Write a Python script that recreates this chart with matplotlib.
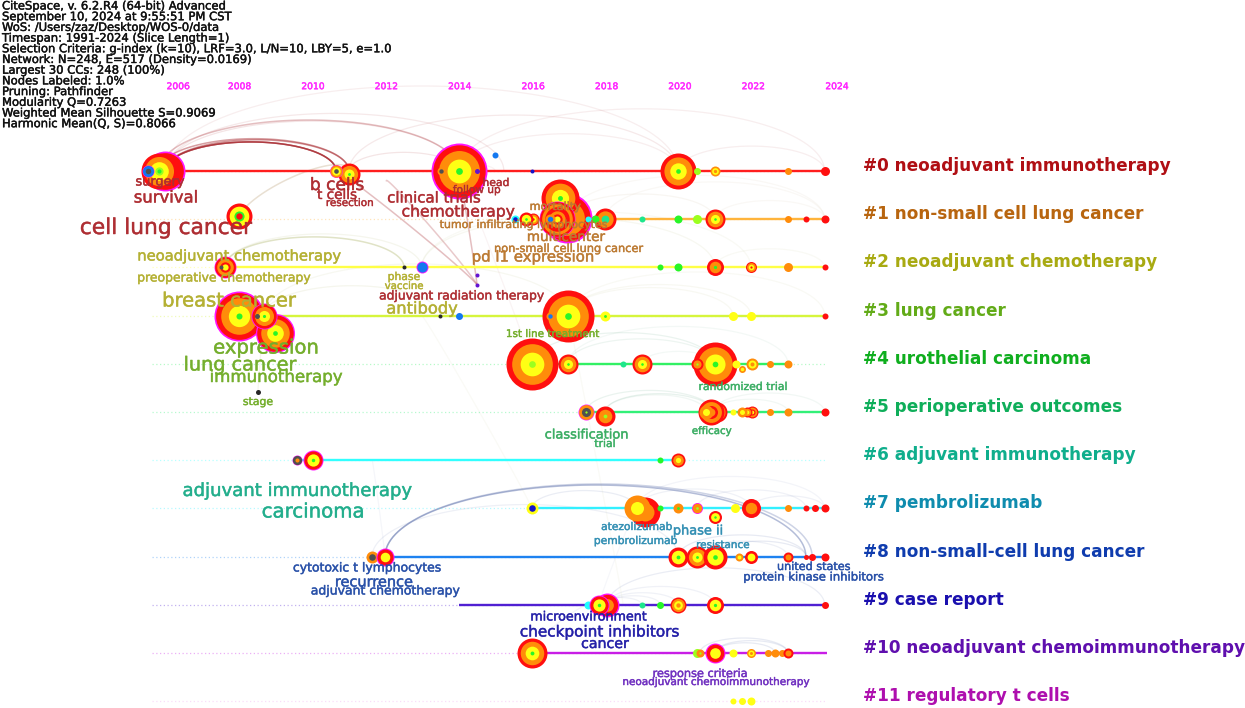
import numpy as np
import matplotlib
matplotlib.use('Agg')
import matplotlib.pyplot as plt
import matplotlib.patheffects as pe
from matplotlib.font_manager import FontProperties
from matplotlib.textpath import TextPath

header_lines = [
    "CiteSpace, v. 6.2.R4 (64-bit) Advanced",
    "September 10, 2024 at 9:55:51 PM CST",
    "WoS: /Users/zaz/Desktop/WOS-0/data",
    "Timespan: 1991-2024 (Slice Length=1)",
    "Selection Criteria: g-index (k=10), LRF=3.0, L/N=10, LBY=5, e=1.0",
    "Network: N=248, E=517 (Density=0.0169)",
    "Largest 30 CCs: 248 (100%)",
    "Nodes Labeled: 1.0%",
    "Pruning: Pathfinder",
    "Modularity Q=0.7263",
    "Weighted Mean Silhouette S=0.9069",
    "Harmonic Mean(Q, S)=0.8066",
]

tick_years = [2006.33, 2008.0, 2010.0, 2012.0, 2014.0, 2016.0, 2018.0, 2020.0, 2022.0, 2024.28]
tick_labels = ['2006', '2008', '2010', '2012', '2014', '2016', '2018', '2020', '2022', '2024']

cluster_names = ['#0 neoadjuvant immunotherapy', '#1 non-small cell lung cancer',
                 '#2 neoadjuvant chemotherapy', '#3 lung cancer', '#4 urothelial carcinoma',
                 '#5 perioperative outcomes', '#6 adjuvant immunotherapy', '#7 pembrolizumab',
                 '#8 non-small-cell lung cancer', '#9 case report',
                 '#10 neoadjuvant chemoimmunotherapy', '#11 regulatory t cells']
cluster_colors = ['#b00f14', '#b8650f', '#a8aa12', '#62ab18', '#0fae1e', '#0fae5a',
                  '#0fae8c', '#0f8cae', '#0f3cae', '#1a0fae', '#5f0fae', '#ae0fae']
lane_colors = ['#ff1e1e', '#ffb43c', '#ffff46', '#d6f53c', '#32f064', '#32f078',
               '#32ffff', '#32f0ff', '#1e82f0', '#5020d2', '#c81ee6', '#f0a0f0']
lane_start = [2005.97, 2015.50, 2007.59, 2007.98, 2015.96, 2017.44,
              2009.56, 2015.96, 2011.61, 2013.97, 2015.96, np.nan]
lane_end = [2023.94, 2023.94, 2023.94, 2023.94, 2022.94, 2023.94,
            2019.95, 2023.94, 2023.94, 2023.94, 2024.0, np.nan]

# citation tree rings, outside to inside
node_year = [
    2005.97, 2005.80, 2005.50, 2010.98, 2010.63, 2013.97, 2013.48, 2014.47, 2014.96, 2015.96,
    2019.95, 2020.45, 2020.95, 2022.94, 2023.94,
    2007.98, 2016.91, 2016.73, 2016.65, 2016.46, 2015.99, 2015.80, 2015.50, 2017.96, 2017.68,
    2017.49, 2018.96, 2019.95, 2020.46, 2020.95, 2022.94, 2023.43, 2023.94,
    2007.59, 2007.48, 2012.48, 2012.96, 2014.47, 2014.47, 2019.46, 2019.95, 2020.95, 2021.93,
    2022.94, 2023.94,
    2007.98, 2008.96, 2008.67, 2008.47, 2013.46, 2013.97, 2016.95, 2016.46, 2017.96, 2021.44,
    2021.93, 2023.94, 2008.50,
    2015.96, 2016.95, 2018.45, 2018.96, 2020.95, 2020.46, 2021.53, 2021.69, 2021.96, 2022.45,
    2022.94,
    2017.44, 2017.96, 2021.00, 2020.85, 2020.71, 2021.44, 2021.96, 2021.83, 2021.69, 2022.45,
    2022.94, 2023.94,
    2009.56, 2010.00, 2019.46, 2019.95,
    2015.96, 2019.05, 2018.82, 2019.46, 2019.95, 2020.45, 2020.95, 2021.93, 2021.50, 2022.94,
    2023.43, 2023.68, 2023.94,
    2011.61, 2011.96, 2019.95, 2020.45, 2020.95, 2021.60, 2021.93, 2022.94, 2023.43, 2023.60,
    2023.94,
    2017.49, 2018.01, 2017.79, 2018.96, 2019.46, 2019.95, 2020.95, 2023.94,
    2015.96, 2020.45, 2020.54, 2020.95, 2021.44, 2021.93, 2022.40, 2022.59, 2022.78, 2022.94,
    2021.44, 2021.69, 2021.93,
]
node_lane = [
    0, 0, 0, 0.06, 0, 0, 0, 0, -0.33, 0,
    0, 0, 0, 0, 0,
    0.94, 0.97, 0.55, 1, 1, 1, 1, 1, 1, 1,
    1, 1, 1, 1, 1, 1, 1, 1,
    2, 2, 2, 2, 2.15, 2.37, 2, 2, 2, 2,
    2, 2,
    3, 3.37, 3, 3, 3, 3, 3, 3, 3, 3,
    3, 3, 4.58,
    4, 4, 4, 4, 4, 4, 4, 4.1, 4, 4,
    4,
    5, 5.08, 5, 5, 5, 5, 5, 5, 5, 5,
    5, 5,
    6, 6, 6, 6,
    7, 7.08, 7, 7, 7, 7, 7.17, 7, 7, 7,
    7, 7, 7,
    8, 8, 8, 8, 8, 8, 8, 8, 8, 8,
    8,
    9, 9, 9, 9, 9, 9, 9, 9,
    10, 10, 10, 10, 10, 10, 10, 10, 10, 10,
    11, 11, 11,
]
node_freq = [
    20, 18, 6, 11, 6.5, 28, 4, 2.5, 3, 2,
    18, 3.5, 5, 3.5, 4.5,
    13, 25, 19, 18, 5, 6, 7, 4, 11, 4,
    3, 3, 4, 4.5, 10, 3.5, 3, 4,
    11, 2, 2, 6, 2, 2, 3, 4, 8.5, 5.5,
    4.5, 3,
    25, 19.5, 13, 2.5, 2, 3.5, 26, 4, 5, 4.5,
    4.5, 3, 2.5,
    26, 10, 3, 10, 22, 6, 4, 3.5, 6, 3.5,
    4,
    8, 10, 10, 13, 7, 3, 6, 5, 5, 3.5,
    4, 4,
    5, 10, 3, 7,
    6, 15, 13, 3, 5, 5.5, 6.5, 9.5, 4.5, 3.5,
    3, 3.5, 4,
    6, 9, 10, 11, 12, 4, 6.5, 5, 2.5, 3.5,
    4,
    4, 12, 10, 3, 3.5, 8, 8.5, 3.5,
    15, 4.5, 4, 10, 4, 4.5, 3.5, 4, 3.5, 5,
    3, 3.5, 4,
]
node_rings = [
    'mrro', 'roylg', 'mbd', 'royg', 'moyd', 'mroyg', 'od', 'p', 'b', 'n',
    'royg', 'l', 'oyo', 'o', 'r',
    'rygr', 'mroo', 'royg', 'mrorrory', 'ob', 'royr', 'ryg', 'cn', 'rot', 'g',
    'c', 't', 'g', 'l', 'royg', 'o', 'r', 'r',
    'mrory', 'd', 'k', 'mb', 'p', 'p', 'g', 'g', 'rog', 'royr',
    'o', 'r',
    'mroyg', 'mroyg', 'mroyg', 'd', 'k', 'b', 'royg', 'ob', 'yg', 'y',
    'y', 'r', 'k',
    'royl', 'royg', 't', 'royg', 'royg', 'rol', 'y', 'oy', 'oyo', 'o',
    'o',
    'modl', 'rol', 'roro', 'roro', 'oy', 'y', 'rory', 'roy', 'oy', 'o',
    'o', 'r',
    'mdo', 'mryg', 'g', 'roy',
    'yn', 'ro', 'oy', 'g', 'og', 'mol', 'ryg', 'ro', 'y', 'o',
    'r', 'r', 'r',
    'od', 'mry', 'ryg', 'royg', 'ryg', 'oy', 'ry', 'ro', 'r', 'r',
    'r',
    'c', 'mro', 'mryg', 't', 'g', 'royo', 'ryg', 'r',
    'royg', 'l', 'ol', 'mry', 'y', 'oyo', 'o', 'o', 'o', 'ro',
    'y', 'y', 'y',
]

arc_from_year = [2005.97, 2005.97, 2005.97, 2005.97, 2005.80, 2005.80, 2005.97, 2005.97, 2005.97,
                 2010.98, 2010.98, 2013.97, 2013.97, 2013.97, 2019.95, 2010.63, 2013.97, 2012.0,
                 2007.98, 2016.91, 2016.91, 2017.96, 2020.95, 2015.99,
                 2007.59, 2007.59, 2012.96, 2012.96, 2020.95,
                 2007.98, 2008.67, 2008.67, 2016.95, 2016.95, 2016.95,
                 2015.96, 2016.95, 2016.95, 2018.96,
                 2017.44, 2017.96, 2017.96, 2020.90, 2020.90,
                 2015.96, 2018.82, 2020.45, 2021.93, 2018.82,
                 2011.96, 2011.96, 2019.95, 2020.95, 2020.45, 2011.61,
                 2018.01, 2018.01, 2018.01, 2017.79, 2018.01,
                 2015.96, 2020.95, 2020.95, 2020.54,
                 2008.67, 2012.96, 2016.95, 2013.97, 2018.82, 2011.96]
arc_from_lane = [0, 0, 0, 0, 0, 0, 0, 0, 0,
                 0, 0, 0, 0, 0, 0, 0, 0, 0.2,
                 1, 1, 1, 1, 1, 1,
                 2, 2, 2, 2, 2,
                 3, 3, 3, 3, 3, 3,
                 4, 4, 4, 4,
                 5, 5, 5, 5, 5,
                 7, 7, 7, 7, 7,
                 8, 8, 8, 8, 8, 8,
                 9, 9, 9, 9, 9,
                 10, 10, 10, 10,
                 3, 3, 3, 0, 7, 8]
arc_to_year = [2010.63, 2010.63, 2010.63, 2010.98, 2010.98, 2013.97, 2013.97, 2015.2, 2019.95,
               2013.97, 2019.95, 2019.95, 2023.94, 2014.96, 2023.94, 2014.47, 2014.47, 2014.47,
               2010.98, 2020.95, 2023.94, 2023.94, 2023.94, 2016.91,
               2012.48, 2012.96, 2020.95, 2021.93, 2023.94,
               2008.67, 2013.46, 2016.95, 2021.44, 2021.93, 2023.94,
               2020.95, 2020.95, 2022.94, 2020.95,
               2020.90, 2020.90, 2020.71, 2023.94, 2022.94,
               2018.82, 2021.93, 2023.43, 2023.94, 2023.94,
               2023.43, 2023.60, 2023.43, 2023.43, 2022.94, 2019.95,
               2023.94, 2019.95, 2020.95, 2018.96, 2019.46,
               2017.79, 2022.59, 2022.94, 2022.94,
               2008.50, 2015.96, 2018.45, 2015.96, 2017.79, 2011.61]
arc_to_lane = [0, 0, 0, 0, 0, 0, 0, 0, 0,
               0, 0, 0, 0, 0, 0, 2.37, 2.37, 2.37,
               0, 1, 1, 1, 1, 1,
               2, 2, 2, 2, 2,
               3, 3, 3, 3, 3, 3,
               4, 4, 4, 4,
               5, 5, 5, 5, 5,
               7, 7, 7, 7, 7,
               8, 8, 8, 8, 8, 8,
               9, 9, 9, 9, 9,
               9, 10, 10, 10,
               4.58, 7, 9, 4, 9, 6]
arc_strength = [0.6, 0.55, 0.5, 0.5, 0.45, 0.3, 0.12, 0.1, 0.08,
                0.12, 0.1, 0.08, 0.08, 0.06, 0.08, 0.3, 0.3, 0.25,
                0.28, 0.08, 0.06, 0.06, 0.06, 0.06,
                0.32, 0.1, 0.08, 0.06, 0.06,
                0.16, 0.1, 0.08, 0.07, 0.07, 0.06,
                0.14, 0.12, 0.08, 0.08,
                0.14, 0.16, 0.1, 0.09, 0.09,
                0.12, 0.09, 0.09, 0.09, 0.07,
                0.45, 0.3, 0.14, 0.14, 0.1, 0.1,
                0.12, 0.09, 0.09, 0.09, 0.09,
                0.07, 0.14, 0.14, 0.14,
                0.1, 0.05, 0.05, 0.05, 0.05, 0.06]

term_red = ['surgery', 'survival', 'cell lung cancer', 'b cells', 't cells', 'resection',
            'clinical trials', 'chemotherapy', 'follow up', 'head', 'adjuvant radiation therapy']
term_red_cx = [160, 166, 166, 337, 337, 350, 434, 458, 477, 496, 462]
term_red_cy = [182, 198, 228, 185, 195, 203, 198, 212, 190, 183, 296]
term_red_w = [48, 62, 171, 52, 39, 46, 92, 112, 47, 25, 164]

term_orange = ['mortality', 'tumor infiltrating lymphocytes', 'multicenter',
               'non-small cell lung cancer', 'pd l1 expression']
term_orange_cx = [555, 524, 566, 569, 533]
term_orange_cy = [207, 225, 237, 249, 257]
term_orange_w = [50, 167, 77, 148, 120]

term_olive = ['neoadjuvant chemotherapy', 'preoperative chemotherapy', 'breast cancer',
              'phase', 'vaccine', 'antibody']
term_olive_cx = [240, 224, 229, 404, 404, 422]
term_olive_cy = [256, 278, 301, 277, 286, 309]
term_olive_w = [202, 172, 132, 31, 38, 70]

term_green = ['expression', 'lung cancer', 'immunotherapy', 'stage', '1st line treatment']
term_green_cx = [266, 240, 276, 258, 553]
term_green_cy = [348, 365, 377, 402, 334]
term_green_w = [103, 111, 131, 29, 92]

term_sea = ['randomized trial', 'classification', 'trial', 'efficacy']
term_sea_cx = [743, 587, 605, 712]
term_sea_cy = [387, 435, 444, 431]
term_sea_w = [87, 82, 20, 39]

term_teal = ['adjuvant immunotherapy', 'carcinoma']
term_teal_cx = [297, 313]
term_teal_cy = [491, 512]
term_teal_w = [228, 100]

term_steel = ['atezolizumab', 'phase ii', 'pembrolizumab', 'resistance']
term_steel_cx = [637, 698, 636, 723]
term_steel_cy = [527, 531, 541, 545]
term_steel_w = [70, 48, 82, 52]

term_blue = ['cytotoxic t lymphocytes', 'recurrence', 'adjuvant chemotherapy',
             'united states', 'protein kinase inhibitors']
term_blue_cx = [367, 374, 385, 814, 814]
term_blue_cy = [568, 582, 591, 567, 577]
term_blue_w = [147, 76, 148, 72, 139]

term_indigo = ['microenvironment', 'checkpoint inhibitors', 'cancer']
term_indigo_cx = [589, 600, 605]
term_indigo_cy = [617, 632, 644]
term_indigo_w = [115, 158, 47]

term_purple = ['response criteria', 'neoadjuvant chemoimmunotherapy']
term_purple_cx = [700, 716]
term_purple_cy = [674, 682]
term_purple_w = [93, 186]

ring_colors = {'m': '#ff14ff', 'r': '#ff0f0f', 'o': '#ff8c0a', 'y': '#ffff14', 'l': '#9bff1e',
               'g': '#28f528', 'c': '#1effff', 'b': '#1478f0', 'n': '#1414c8', 'd': '#505050',
               'p': '#6414d2', 'k': '#282828', 't': '#1ee68c'}
ring_weight = {'m': 0.07, 'r': 0.22, 'o': 0.33, 'y': 0.33, 'l': 0.13, 'g': 0.13, 'c': 0.3,
               'b': 0.4, 'n': 0.4, 'd': 0.4, 'p': 0.4, 'k': 0.4, 't': 0.3}

W, H = 1245, 708
PX_PER_YEAR = 36.7
PX_PER_LANE = 48.2
AX_TOP = 87


def size_for_width(text, width_px, weight='normal'):
    box = TextPath((0, 0), text, size=10, prop=FontProperties(family='DejaVu Sans', weight=weight))
    return 10 * width_px / box.get_extents().width * 72 / fig.dpi


def heavier(col, lw=0.35):
    return [pe.withStroke(linewidth=lw, foreground=col)]


fig = plt.figure(figsize=(W / 100, H / 100), dpi=100)
ax = fig.add_axes([0, 0, 1, 1 - AX_TOP / H])
ax.set_xlim(2020 - 680 / PX_PER_YEAR, 2020 + (W - 680) / PX_PER_YEAR)
ax.set_ylim((H - 171) / PX_PER_LANE, (AX_TOP - 171) / PX_PER_LANE)
for s in ax.spines.values():
    s.set_visible(False)
ax.patch.set_visible(False)
ax.set_yticks([])
ax.xaxis.tick_top()
ax.set_xticks(tick_years, tick_labels)
ax.tick_params(axis='x', length=0, pad=-3, labelsize=6.6, labelcolor='#ff28ff')
for lab in ax.get_xticklabels():
    lab.set_path_effects(heavier('#ff28ff', 0.3))

# faint background links
for i in range(len(arc_from_year)):
    x0, y0, x1, y1 = arc_from_year[i], arc_from_lane[i], arc_to_year[i], arc_to_lane[i]
    span_px = abs(x1 - x0) * PX_PER_YEAR
    rise = min(0.17 * span_px, 85) / PX_PER_LANE
    if abs(y1 - y0) > 1:
        rise = 0.1
    t = np.linspace(0, np.pi, 80)
    xs = (x0 + x1) / 2 - (x1 - x0) / 2 * np.cos(t)
    ys = y0 + (y1 - y0) * (1 - np.cos(t)) / 2 - rise * np.sin(t)
    lane = int(y0)
    if lane in (7, 8, 9, 10):
        col = '#5a6eaa'
    elif lane == 1:
        col = '#b09060'
    elif lane in (2, 3):
        col = '#a0a850'
    elif lane in (4, 5):
        col = '#70b090'
    else:
        col = '#a82a30'
    ax.plot(xs, ys, color=col, alpha=arc_strength[i], lw=1.1 if arc_strength[i] > 0.2 else 0.9,
            zorder=1, clip_on=False)

for k in range(12):
    ax.plot([2005.6, 2024.0], [k, k], color=lane_colors[k], alpha=0.35, lw=0.9,
            ls=(0, (1, 2)), zorder=1.5)
    if not np.isnan(lane_start[k]):
        ax.plot([lane_start[k], lane_end[k]], [k, k], color=lane_colors[k], lw=1.7,
                solid_capstyle='butt', zorder=2)
    ax.text(2020 + (863 - 680) / PX_PER_YEAR, k - 0.105, cluster_names[k], color=cluster_colors[k],
            fontweight='bold', va='center', ha='left',
            fontsize=size_for_width(cluster_names[10], 380, 'bold'))

for i in range(len(node_year)):
    rings = node_rings[i]
    weights = np.array([ring_weight[c] for c in rings])
    radii = node_freq[i] * (1 - np.concatenate([[0], np.cumsum(weights)[:-1]]) / weights.sum())
    for c, r in zip(rings, radii):
        ax.scatter(node_year[i], node_lane[i], s=(2 * r * 0.72) ** 2, color=ring_colors[c],
                   linewidths=0, zorder=3 + i * 0.01, clip_on=False)

term_groups = [
    (term_red, term_red_cx, term_red_cy, term_red_w, '#ae2d32'),
    (term_orange, term_orange_cx, term_orange_cy, term_orange_w, '#bc7a32'),
    (term_olive, term_olive_cx, term_olive_cy, term_olive_w, '#b4b032'),
    (term_green, term_green_cx, term_green_cy, term_green_w, '#74ae2c'),
    (term_sea, term_sea_cx, term_sea_cy, term_sea_w, '#3cae64'),
    (term_teal, term_teal_cx, term_teal_cy, term_teal_w, '#22ae8c'),
    (term_steel, term_steel_cx, term_steel_cy, term_steel_w, '#3490b4'),
    (term_blue, term_blue_cx, term_blue_cy, term_blue_w, '#2850a8'),
    (term_indigo, term_indigo_cx, term_indigo_cy, term_indigo_w, '#2420a8'),
    (term_purple, term_purple_cx, term_purple_cy, term_purple_w, '#7030c0'),
]
for names, cxs, cys, widths, col in term_groups:
    for n, cx, cy, w in zip(names, cxs, cys, widths):
        fig.text(cx / W, 1 - cy / H, n, color=col, ha='center', va='center', alpha=0.92,
                 fontsize=size_for_width(n, w), zorder=10, path_effects=heavier(col))

head_size = size_for_width(header_lines[4], 388)
for i, line in enumerate(header_lines):
    fig.text(2 / W, 1 - (6 + i * 10.7) / H, line, color='#111111', fontsize=head_size,
             ha='left', va='center', path_effects=heavier('#111111', 0.3))

fig.savefig('out.png', dpi=100, facecolor='white')
